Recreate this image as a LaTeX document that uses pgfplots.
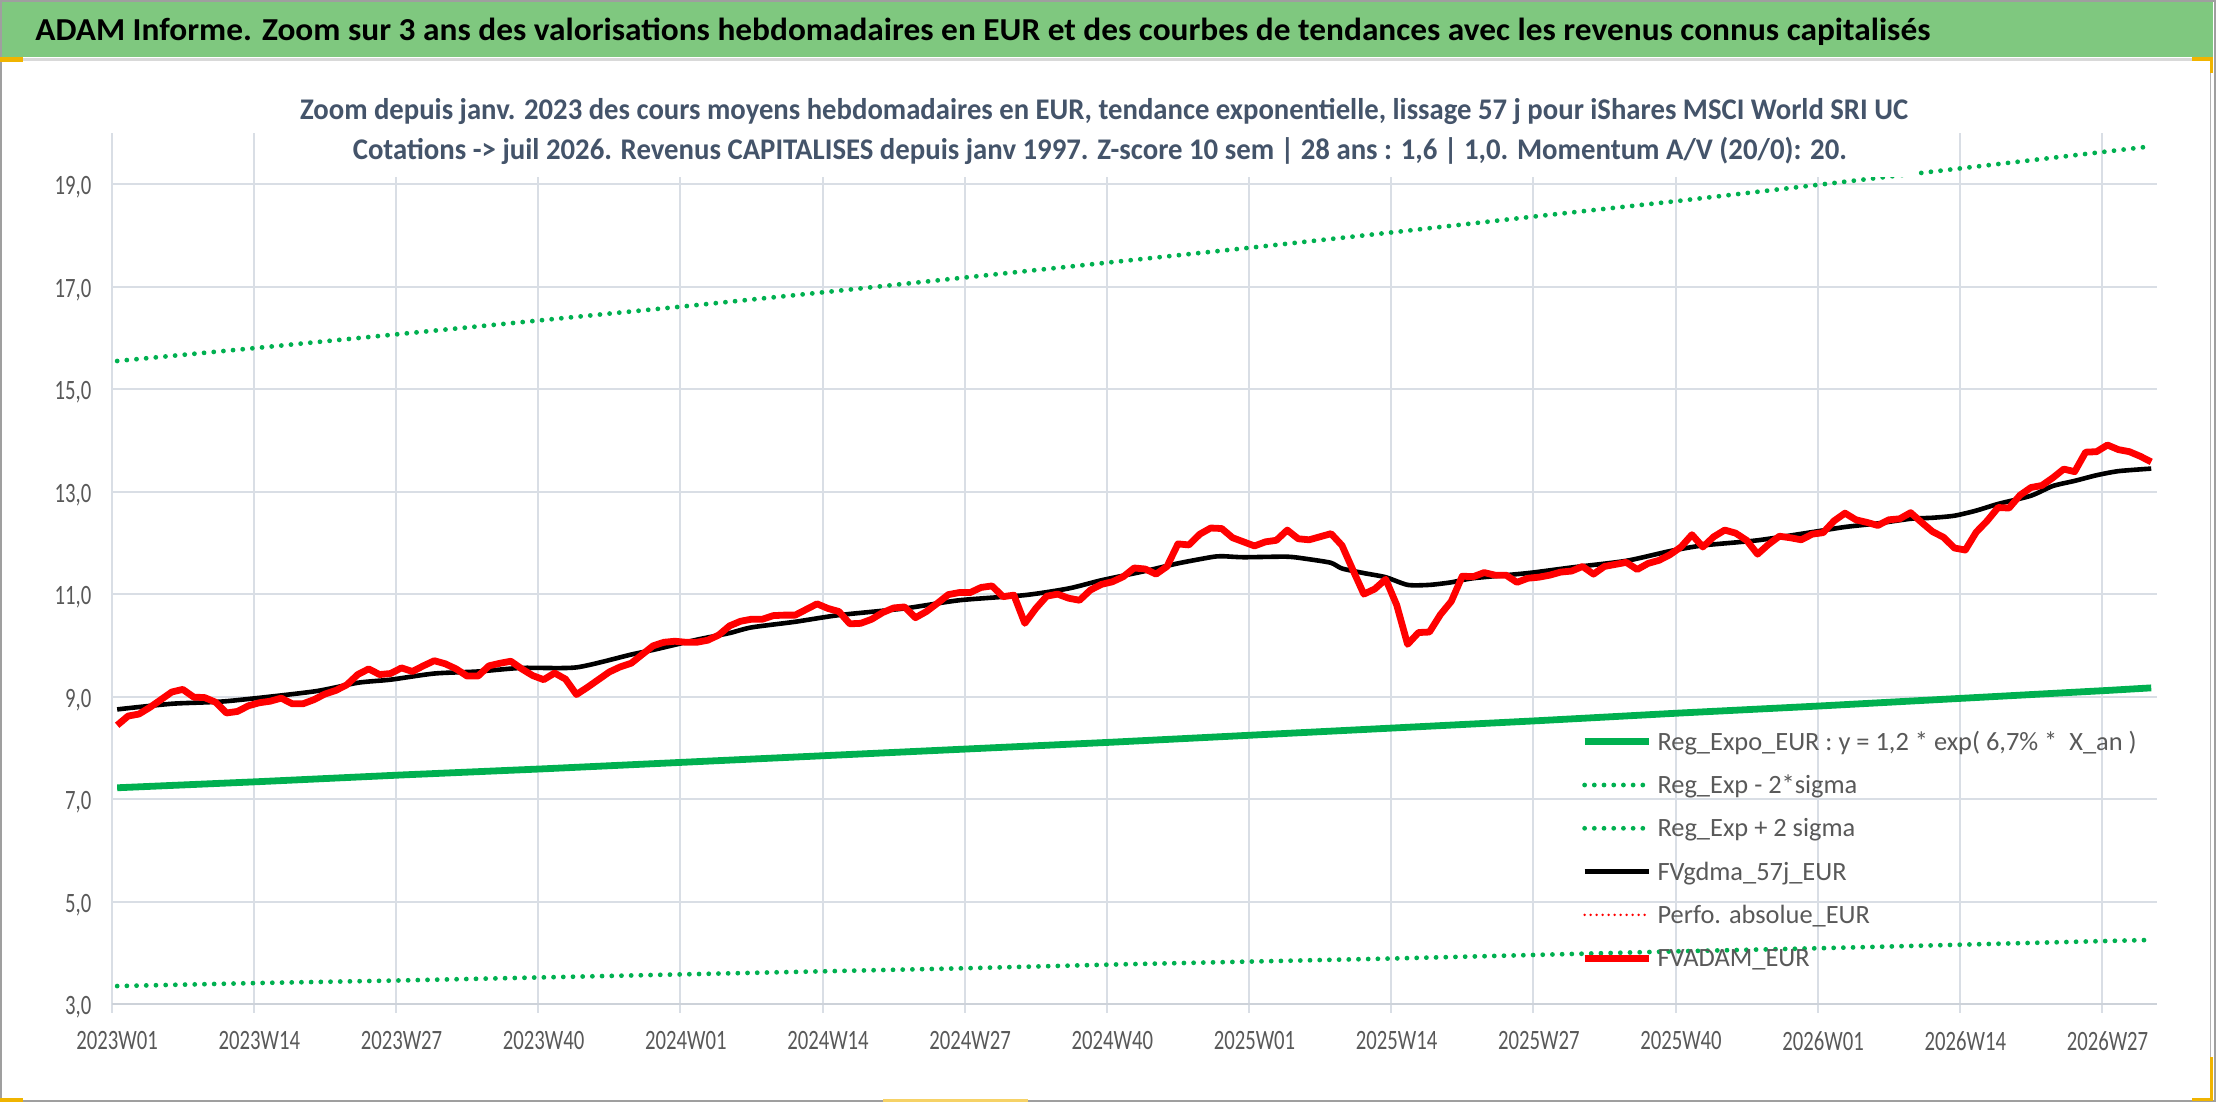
\documentclass[border=0pt]{standalone}
\usepackage{fontspec}
\setmainfont{Carlito}
\usepackage{graphicx}
\usepackage{pgfplots}
\usepackage{pgfplotstable}
\pgfplotsset{compat=1.18}

\definecolor{bandgreen}{RGB}{127,200,127}
\definecolor{xlgreen}{RGB}{0,176,80}
\definecolor{gridc}{RGB}{217,222,229}
\definecolor{axisc}{RGB}{205,210,217}
\definecolor{tickc}{RGB}{89,89,89}
\definecolor{subc}{RGB}{68,84,106}
\definecolor{selc}{RGB}{240,180,0}

\newcommand\sq[1]{\scalebox{0.74}[1]{#1}}

\pgfplotstableread{
i v
0 8.44
1 8.62
2 8.66
3 8.79
4 8.94
5 9.09
6 9.14
7 8.99
8 8.98
9 8.89
10 8.68
11 8.71
12 8.82
13 8.88
14 8.91
15 8.97
16 8.86
17 8.86
18 8.94
19 9.05
20 9.12
21 9.23
22 9.43
23 9.54
24 9.43
25 9.45
26 9.56
27 9.49
28 9.60
29 9.70
30 9.64
31 9.54
32 9.40
33 9.40
34 9.60
35 9.65
36 9.69
37 9.54
38 9.41
39 9.33
40 9.46
41 9.34
42 9.04
43 9.18
44 9.33
45 9.48
46 9.58
47 9.65
48 9.82
49 9.99
50 10.06
51 10.08
52 10.06
53 10.06
54 10.10
55 10.20
56 10.38
57 10.47
58 10.51
59 10.51
60 10.58
61 10.59
62 10.59
63 10.70
64 10.81
65 10.72
66 10.66
67 10.42
68 10.43
69 10.51
70 10.64
71 10.73
72 10.75
73 10.54
74 10.66
75 10.82
76 10.99
77 11.03
78 11.03
79 11.13
80 11.16
81 10.95
82 10.98
83 10.43
84 10.72
85 10.96
86 11.00
87 10.92
88 10.88
89 11.08
90 11.19
91 11.24
92 11.34
93 11.51
94 11.49
95 11.39
96 11.54
97 11.98
98 11.96
99 12.17
100 12.29
101 12.28
102 12.10
103 12.02
104 11.94
105 12.02
106 12.05
107 12.25
108 12.08
109 12.06
110 12.12
111 12.18
112 11.95
113 11.47
114 11.00
115 11.10
116 11.29
117 10.79
118 10.02
119 10.25
120 10.26
121 10.60
122 10.86
123 11.35
124 11.34
125 11.42
126 11.37
127 11.37
128 11.23
129 11.31
130 11.33
131 11.37
132 11.43
133 11.45
134 11.54
135 11.39
136 11.54
137 11.58
138 11.62
139 11.48
140 11.60
141 11.66
142 11.77
143 11.92
144 12.16
145 11.92
146 12.12
147 12.25
148 12.19
149 12.05
150 11.78
151 11.97
152 12.13
153 12.10
154 12.06
155 12.17
156 12.20
157 12.43
158 12.58
159 12.45
160 12.40
161 12.34
162 12.45
163 12.47
164 12.59
165 12.40
166 12.22
167 12.11
168 11.90
169 11.86
170 12.21
171 12.43
172 12.69
173 12.68
174 12.93
175 13.08
176 13.12
177 13.27
178 13.44
179 13.39
180 13.77
181 13.78
182 13.91
183 13.82
184 13.78
185 13.69
186 13.58
}\redtab

\pgfplotstableread{
i v
0 8.75
5 8.86
10 8.91
18 9.10
22 9.27
25 9.33
29 9.45
33 9.49
37 9.56
42 9.57
47 9.82
49 9.91
53 10.11
56 10.24
58 10.35
62 10.46
66 10.59
72 10.72
77 10.88
83 10.98
87 11.11
90 11.27
94 11.45
97 11.60
100 11.72
101 11.74
103 11.72
107 11.73
109 11.68
111 11.61
112 11.50
114 11.41
116 11.33
118 11.18
120 11.18
122 11.23
124 11.31
129 11.41
133 11.52
138 11.65
142 11.84
145 11.95
150 12.05
155 12.21
158 12.31
161 12.38
164 12.47
166 12.49
168 12.53
170 12.63
172 12.76
175 12.92
177 13.11
179 13.21
181 13.32
183 13.40
186 13.45
}\blacktab

\pgfplotstableread{
i v
0 7.22
13 7.34
26 7.47
39 7.59
52 7.72
65 7.85
78 7.98
91 8.11
104 8.25
117 8.39
130 8.53
143 8.68
156 8.82
169 8.97
182 9.12
186 9.17
}\trendtab

\pgfplotstableread{
i v
0 3.35
13 3.41
26 3.46
39 3.52
52 3.58
65 3.64
78 3.70
91 3.77
104 3.83
117 3.89
130 3.96
143 4.03
156 4.09
169 4.16
182 4.23
186 4.25
}\lowtab

\pgfplotstableread{
i v
0 15.55
13 15.81
26 16.08
39 16.35
52 16.62
65 16.90
78 17.19
91 17.48
104 17.77
117 18.07
130 18.38
143 18.68
156 19.00
169 19.32
182 19.64
186 19.74
}\uptab

\begin{document}
\begin{tikzpicture}[x=1pt,y=1pt]
\path[use as bounding box] (0,0) rectangle (1108,551);
\fill[white] (0,0) rectangle (1108,551);
% header band
\fill[bandgreen] (1,522.5) rectangle (1106.5,550.5);
\draw[gray!30, line width=1.5pt] (0,521) -- (1106.5,521);
\draw[gray!60, line width=0.8pt] (1105.2,0.5) -- (1105.2,521);
\draw[gray!75, line width=1pt] (0.5,0.5) rectangle (1107.5,550.5);
% selection marks
\fill[selc] (0,520) rectangle (11.5,522.5);
\fill[selc] (0,0) rectangle (11.5,2);
\fill[selc] (1096,520.5) rectangle (1106.5,522.5);
\fill[selc] (1105,514.5) rectangle (1106.5,522.5);
\fill[selc] (1105,1) rectangle (1106.5,22.5);
\fill[selc] (1096,0.5) rectangle (1106.5,2);
\fill[selc!60] (441.5,0) rectangle (514,1.5);
\node[anchor=base west, inner sep=0pt] at (17.5,530.5)
  {\resizebox{947.5pt}{\height}{\fontsize{16}{18}\selectfont\bfseries ADAM Informe. Zoom sur 3 ans des valorisations hebdomadaires en EUR et des courbes de tendances avec les revenus connus capitalisés}};

\begin{axis}[
  at={(55.85pt,49pt)}, anchor=south west,
  width=1022.5pt, height=435.5pt, scale only axis,
  xmin=-0.5, xmax=186.5, ymin=3, ymax=20,
  axis x line*=bottom, axis y line*=left,
  x axis line style={-, line width=1.4pt, draw=axisc},
  y axis line style={draw=none},
  xtick={-0.5,12.5,...,181.5},
  xticklabels={\sq{2023W01},\sq{2023W14},\sq{2023W27},\sq{2023W40},\sq{2024W01},\sq{2024W14},\sq{2024W27},\sq{2024W40},\sq{2025W01},\sq{2025W14},\sq{2025W27},\sq{2025W40},\sq{2026W01},\sq{2026W14},\sq{2026W27}},
  ytick={3,5,...,19},
  yticklabel={\sq{\pgfmathprintnumber{\tick}}},
  yticklabel style={/pgf/number format/fixed, /pgf/number format/fixed zerofill,
     /pgf/number format/precision=1, /pgf/number format/use comma,
     /pgf/number format/assume math mode=true,
     anchor=base east, inner sep=0pt, xshift=-5.65pt, yshift=-5.3pt},
  xticklabel style={anchor=north, inner sep=0pt, xshift=2.73pt, yshift=-9.35pt},
  tick label style={font=\fontsize{14}{16}\selectfont, text=tickc},
  grid=major,
  major grid style={line width=1pt, draw=gridc},
  tick align=outside,
  major tick length=4.35pt,
  xtick style={draw=gridc, line width=1pt},
  ytick style={draw=none},
  legend image code/.code={\draw[#1] (0pt,1.75pt) -- (32pt,1.75pt);},
  legend cell align=left,
  legend style={draw=none, fill=none, inner sep=0pt, outer sep=0pt,
     at={(0.7186,0.3109)}, anchor=north west,
     row sep=9.65pt, column sep=2.75pt,
     nodes={inner sep=0pt, text height=8.5pt, text depth=3.5pt, text=tickc,
            font=\fontsize{13.2}{15}\selectfont}},
]
\addplot[xlgreen, line width=3.4pt] table[x=i,y=v] {\trendtab};
\addlegendentry{Reg\_Expo\_EUR : y = 1,2 * exp( 6,7\% *\ \ X\_an )}
\addplot[xlgreen, line width=2.4pt, line cap=round, dash pattern=on 0pt off 4.85pt] table[x=i,y=v] {\lowtab};
\addlegendentry{Reg\_Exp - 2*sigma}
\addplot[xlgreen, line width=2.4pt, line cap=round, dash pattern=on 0pt off 4.85pt] table[x=i,y=v] {\uptab};
\addlegendentry{Reg\_Exp + 2 sigma}
\addplot[black, line width=2.3pt, line join=round, smooth, tension=0.4] table[x=i,y=v] {\blacktab};
\addlegendentry{FVgdma\_57j\_EUR}
\addlegendimage{red, line width=1.3pt, line cap=round, dash pattern=on 0pt off 3pt}
\addlegendentry{Perfo. absolue\_EUR}
\addplot[red, line width=3.4pt, line join=round] table[x=i,y=v] {\redtab};
\addlegendentry{FVADAM\_EUR}
\end{axis}

% chart title box (opaque)
\fill[white] (145,462.5) rectangle (958,508);
\node[anchor=base, inner sep=0pt] at (552,491.35)
  {\resizebox{804pt}{\height}{\fontsize{15}{18}\selectfont\bfseries\color{subc}Zoom depuis janv. 2023 des cours moyens hebdomadaires en EUR, tendance exponentielle, lissage 57 j pour iShares MSCI World SRI UC}};
\node[anchor=base, inner sep=0pt] at (549.9,471.35)
  {\resizebox{747pt}{\height}{\fontsize{15}{18}\selectfont\bfseries\color{subc}Cotations -> juil 2026. Revenus CAPITALISES depuis janv 1997. Z-score 10 sem | 28 ans : 1,6 | 1,0. Momentum A/V (20/0): 20.}};
\end{tikzpicture}
\end{document}
